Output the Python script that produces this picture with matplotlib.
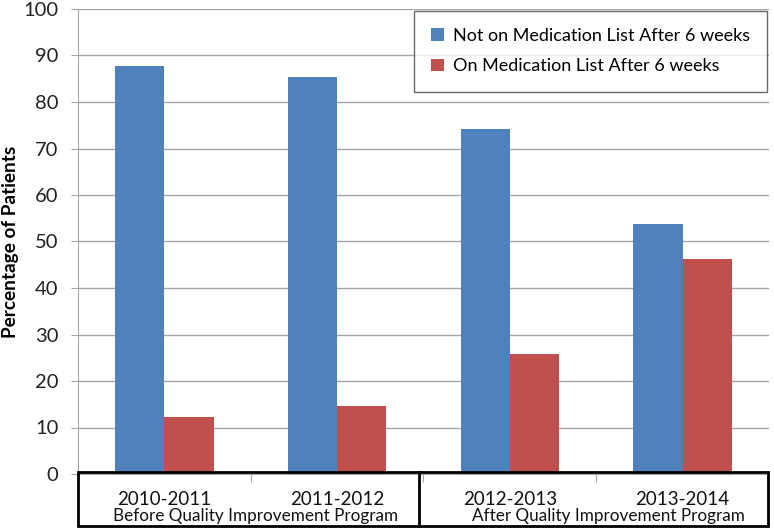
import matplotlib
matplotlib.use("Agg")
import matplotlib.pyplot as plt
from matplotlib.patches import Rectangle
from matplotlib.lines import Line2D
import numpy as np

categories = ["2010-2011", "2011-2012", "2012-2013", "2013-2014"]
not_on_list = [87.7, 85.4, 74.3, 53.8]
on_list = [12.3, 14.6, 25.7, 46.2]
series_names = ["Not on Medication List After 6 weeks", "On Medication List After 6 weeks"]
groups = ["Before Quality Improvement Program", "After Quality Improvement Program"]
yticks = [0, 10, 20, 30, 40, 50, 60, 70, 80, 90, 100]

plt.rcParams['font.family'] = ['Lato', 'DejaVu Sans']

W, H = 774, 531
fig = plt.figure(figsize=(W / 100, H / 100), dpi=100)
ax_l, ax_r, ax_t, ax_b = 78, 769, 9, 474
ax = fig.add_axes([ax_l / W, 1 - ax_b / H, (ax_r - ax_l) / W, (ax_b - ax_t) / H])

blue = "#4F81BD"
red = "#C0504D"
x = np.arange(len(categories))
bw = 0.285
ax.bar(x - bw / 2, not_on_list, bw, color=blue, label=series_names[0], zorder=3)
ax.bar(x + bw / 2, on_list, bw, color=red, label=series_names[1], zorder=3)

ax.set_xlim(-0.5, len(categories) - 0.5)
ax.set_ylim(0, 100)
ax.set_yticks(yticks)
ax.set_yticklabels([str(v) for v in yticks], fontsize=14.5, color="#222222")
ax.yaxis.grid(True, color="#A6A6A6", linewidth=1.0, zorder=0)
ax.tick_params(axis='y', length=5, color="#A6A6A6", pad=9)
ax.set_xticks([0.5, 1.5, 2.5])
ax.set_xticklabels([])
ax.tick_params(axis='x', direction='out', length=6, color="#A6A6A6")
for s in ["top", "right"]:
    ax.spines[s].set_visible(False)
ax.spines["left"].set_color("#A6A6A6")
ax.spines["bottom"].set_color("#A6A6A6")

def fx(px):
    return px / W

def fy(py):
    return 1 - py / H

fig.text(fx(11), fy(241.5), "Percentage of Patients", rotation=90, ha="center", va="center",
         fontsize=13.7, fontweight="bold", color="black")

leg = ax.legend(loc="upper right", bbox_to_anchor=(1.0, 1.0), borderaxespad=0.1,
                fontsize=13, frameon=True, fancybox=False, handlelength=0.7,
                handleheight=0.7, handletextpad=0.5, borderpad=0.95, labelspacing=0.8)
leg.get_frame().set_edgecolor("#444444")
leg.get_frame().set_linewidth(1.0)
leg.set_zorder(5)

box_top, box_bot = 472, 526
box_left, box_right, box_mid = 78, 768, 419
fig.add_artist(Rectangle((fx(box_left), fy(box_bot)), fx(box_right) - fx(box_left),
                         fy(box_top) - fy(box_bot), transform=fig.transFigure,
                         fill=False, edgecolor="black", linewidth=2.0, zorder=10))
fig.add_artist(Line2D([fx(box_mid), fx(box_mid)], [fy(box_top), fy(box_bot)],
                      transform=fig.transFigure, color="black", linewidth=2.0, zorder=10))

for i, c in enumerate(categories):
    xd = ax.transData.transform((i, 0))[0]
    fig.text(xd / W, fy(499.5), c, ha="center", va="center", fontsize=13.5, color="#111111")

fig.text(fx(256), fy(516.5), groups[0], ha="center", va="center", fontsize=12.3, color="#111111")
fig.text(fx(608), fy(516.5), groups[1], ha="center", va="center", fontsize=12.3, color="#111111")

fig.savefig("out.png", dpi=100)
